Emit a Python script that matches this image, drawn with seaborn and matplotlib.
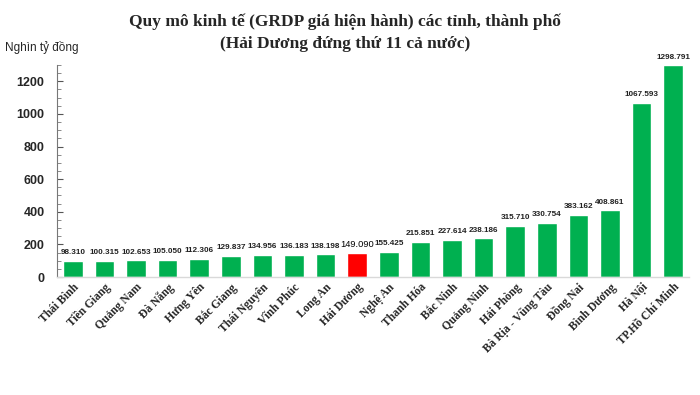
import matplotlib
matplotlib.use("Agg")
import matplotlib.pyplot as plt
import seaborn as sns
import pandas as pd
from matplotlib.ticker import MultipleLocator

provinces = ["Thái Bình", "Tiền Giang", "Quảng Nam", "Đà Nẵng", "Hưng Yên", "Bắc Giang",
             "Thái Nguyên", "Vĩnh Phúc", "Long An", "Hải Dương", "Nghệ An", "Thanh Hóa",
             "Bắc Ninh", "Quảng Ninh", "Hải Phòng", "Bà Rịa - Vũng Tàu", "Đồng Nai",
             "Bình Dương", "Hà Nội", "TP.Hồ Chí Minh"]
values = [98.310, 100.315, 102.653, 105.050, 112.306, 129.837, 134.956, 136.183, 138.198,
          149.090, 155.425, 215.851, 227.614, 238.186, 315.710, 330.754, 383.162, 408.861,
          1067.593, 1298.791]
highlight = "Hải Dương"

sns.set_theme(style="white")
plt.rcParams['font.family'] = ['Liberation Sans', 'DejaVu Sans']

df = pd.DataFrame({"province": provinces, "value": values})
palette = {p: ("#FF0000" if p == highlight else "#00B050") for p in provinces}

fig = plt.figure(figsize=(7, 3.95), dpi=100)
ax = fig.add_axes([57/700, 1-277/395, 632/700, (277-65)/395])
sns.barplot(data=df, x="province", y="value", hue="province", palette=palette,
            dodge=False, legend=False, width=0.62, ax=ax, saturation=1)

ax.set_ylim(0, 1300)
ax.set_xlim(-0.5, len(provinces) - 0.5)
ax.yaxis.set_major_locator(MultipleLocator(200))
ax.yaxis.set_minor_locator(MultipleLocator(50))
ax.tick_params(axis='y', which='major', length=4, width=0.8, color="#555555", direction='in', left=True,
               labelsize=9, pad=9)
ax.tick_params(axis='y', which='minor', length=3, width=0.6, color="#777777", direction='in', left=True)
for lab in ax.get_yticklabels():
    lab.set_fontweight('bold')
ax.tick_params(axis='x', length=0, pad=3)
ax.set_xticks(range(len(provinces)))
ax.set_xticklabels(provinces, rotation=45, ha='right', rotation_mode='anchor',
                   fontsize=8.3, fontweight='bold', family='Liberation Serif')
ax.set_xlabel("")
ax.set_ylabel("")
for s in ["top", "right"]:
    ax.spines[s].set_visible(False)
ax.spines["left"].set_color("#777777")
ax.spines["left"].set_linewidth(0.8)
ax.spines["bottom"].set_color("#D9D9D9")
ax.spines["bottom"].set_linewidth(1.0)

for i, (p, v) in enumerate(zip(provinces, values)):
    if p == highlight:
        ax.text(i, v + 22, f"{v:.3f}", ha='center', va='bottom', fontsize=6.7,
                color="black")
    else:
        ax.text(i, v + 28, f"{v:.3f}", ha='center', va='bottom', fontsize=5.9,
                fontweight='bold', color="#222222")

fig.text(345/700, 1-22/395, "Quy mô kinh tế (GRDP giá hiện hành) các tỉnh, thành phố",
         ha='center', va='center', fontsize=12.5, fontweight='bold', family='Liberation Serif')
fig.text(345/700, 1-44/395, "(Hải Dương đứng thứ 11 cả nước)",
         ha='center', va='center', fontsize=12.5, fontweight='bold', family='Liberation Serif')
fig.text(5/700, 1-47/395, "Nghìn tỷ đồng", ha='left', va='center', fontsize=8.5)

fig.savefig("out.png", dpi=100, facecolor="white")
